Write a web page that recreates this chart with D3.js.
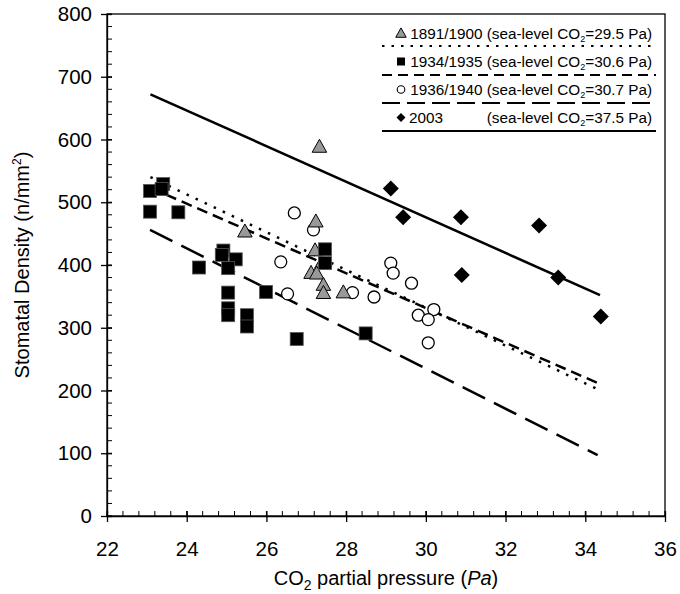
<!DOCTYPE html>
<html><head><meta charset="utf-8">
<script src="https://cdn.jsdelivr.net/npm/d3@7"></script>
<style>body{margin:0;background:#fff}svg{display:block}text{font-family:"Liberation Sans",Arial,sans-serif;fill:#000}</style>
</head><body>
<script>
// ---- data ----
const xTicks = [22,24,26,28,30,32,34,36];
const yTicks = [0,100,200,300,400,500,600,700,800];

const tri1891X = [27.33,27.24,27.22,27.39,27.12,27.26,27.43,27.43,27.93,25.46];
const tri1891Y = [588,469,423,403,387,386,368,355,356,453];

const sq1934X = [23.08,23.08,23.41,23.37,23.79,24.31,24.92,24.88,25.23,25.04,25.04,25.04,25.04,25.51,25.51,25.99,26.76,27.47,27.47,28.49];
const sq1934Y = [518,485,529,521,484,396,423,416,409,395,356,331,320,320,302,357,282,425,403,291];

const circ1936X = [26.70,27.18,26.36,26.53,28.16,28.70,29.12,29.18,29.64,30.20,29.81,30.06,30.06];
const circ1936Y = [483,456,405,354,356,349,403,387,371,329,320,313,276];

const dia2003X = [29.12,29.43,30.88,30.90,32.84,33.32,34.39];
const dia2003Y = [522,476,476,384,463,380,318];

// regression lines: [x0, x1], [y0, y1]
const fit1891X = [23.09,34.31], fit1891Y = [540,202];
const fit1934X = [23.09,34.31], fit1934Y = [523,212];
const fit1936X = [23.08,34.31], fit1936Y = [456,97];
const fit2003X = [23.09,34.37], fit2003Y = [672,352];

const legendYears = ["1891/1900","1934/1935","1936/1940","2003"];
const legendCO2 = ["29.5","30.6","30.7","37.5"];

// ---- chart ----
const W = 680, H = 594;
const m = {l:107, r:665, t:14, b:516};
const svg = d3.select("body").append("svg").attr("width",W).attr("height",H);
const x = d3.scaleLinear().domain([22,36]).range([m.l,m.r]);
const y = d3.scaleLinear().domain([0,800]).range([m.b,m.t]);

// frame
svg.append("rect").attr("x",m.l).attr("y",m.t).attr("width",m.r-m.l).attr("height",m.b-m.t)
  .attr("fill","none").attr("stroke","#000").attr("stroke-width",1.3);

// minor ticks
const gx = svg.append("g");
d3.range(22,36.001,0.4).forEach(v=>{
  gx.append("line").attr("x1",x(v)).attr("x2",x(v)).attr("y1",m.b).attr("y2",m.b-5).attr("stroke","#000").attr("stroke-width",1);
});
d3.range(0,801,20).forEach(v=>{
  gx.append("line").attr("x1",m.l).attr("x2",m.l+5).attr("y1",y(v)).attr("y2",y(v)).attr("stroke","#000").attr("stroke-width",1);
});

// axes
const xAxis = d3.axisBottom(x).tickValues(xTicks).tickSize(6).tickPadding(19).tickSizeOuter(0);
const gX = svg.append("g").attr("transform",`translate(0,${m.b})`).call(xAxis);
const yAxis = d3.axisLeft(y).tickValues(yTicks).tickSize(6).tickPadding(9).tickSizeOuter(0);
const gY = svg.append("g").attr("transform",`translate(${m.l},0)`).call(yAxis);
[gX,gY].forEach(g=>{
  g.select(".domain").attr("stroke","#000").attr("stroke-width",1.3);
  g.selectAll(".tick line").attr("stroke","#000").attr("stroke-width",1.3);
  g.selectAll(".tick text").attr("font-size",20.5).attr("font-family","Liberation Sans, Arial, sans-serif").attr("fill","#000");
});
gX.selectAll(".tick line").attr("y1",-5);
gY.selectAll(".tick line").attr("x1",5);

// axis titles
const xt = svg.append("text").attr("x",(m.l+m.r)/2 - 0).attr("y",585).attr("text-anchor","middle").attr("font-size",20);
xt.append("tspan").text("CO");
xt.append("tspan").text("2").attr("font-size",14).attr("dy",5);
xt.append("tspan").text(" partial pressure (").attr("dy",-5);
xt.append("tspan").text("Pa").attr("font-style","italic");
xt.append("tspan").text(")");

const yt = svg.append("text").attr("transform",`translate(29,${(m.t+m.b)/2}) rotate(-90)`).attr("text-anchor","middle").attr("font-size",20);
yt.append("tspan").text("Stomatal Density (n/mm");
yt.append("tspan").text("2").attr("font-size",12).attr("dy",-8);
yt.append("tspan").text(")").attr("dy",8);

// fit lines
const lineGen = d3.line().x(d=>x(d[0])).y(d=>y(d[1]));
const fits = [
  {xs:fit1891X, ys:fit1891Y, dash:"2.5,7.5", w:2.5},
  {xs:fit1934X, ys:fit1934Y, dash:"11,6", w:2.5},
  {xs:fit1936X, ys:fit1936Y, dash:"25,10", w:2.5},
  {xs:fit2003X, ys:fit2003Y, dash:null, w:2.5}
];
fits.forEach(f=>{
  svg.append("path").attr("d",lineGen(f.xs.map((v,i)=>[v,f.ys[i]])))
    .attr("fill","none").attr("stroke","#000").attr("stroke-width",f.w)
    .attr("stroke-dasharray",f.dash);
});

// markers
const triPath = s => `M0,${-s*0.62}L${s*0.58},${s*0.42}L${-s*0.58},${s*0.42}Z`;
const diaPath = s => `M0,${-s}L${s},0L0,${s}L${-s},0Z`;
function drawSq(g,cx,cy){ g.append("rect").attr("x",cx-6.5).attr("y",cy-6.5).attr("width",13).attr("height",13).attr("fill","#000").attr("stroke","#555").attr("stroke-width",0.8); }
function drawCirc(g,cx,cy){ g.append("circle").attr("cx",cx).attr("cy",cy).attr("r",6).attr("fill","#fff").attr("stroke","#000").attr("stroke-width",1.3); }
function drawTri(g,cx,cy){ g.append("path").attr("transform",`translate(${cx},${cy})`).attr("d",triPath(12.5)).attr("fill","#999").attr("stroke","#000").attr("stroke-width",1); }
function drawDia(g,cx,cy){ g.append("path").attr("transform",`translate(${cx},${cy})`).attr("d",diaPath(8)).attr("fill","#000"); }

const pg = svg.append("g");
circ1936X.forEach((v,i)=>drawCirc(pg,x(v),y(circ1936Y[i])));
tri1891X.forEach((v,i)=>drawTri(pg,x(v),y(tri1891Y[i])));
sq1934X.forEach((v,i)=>drawSq(pg,x(v),y(sq1934Y[i])));
dia2003X.forEach((v,i)=>drawDia(pg,x(v),y(dia2003Y[i])));

// legend
const lg = svg.append("g");
const rowY = [39,67,95,123];
const lineY = [46,75,103,131];
const lgDash = ["2.5,7","10,6","18,7",null];
const drawers = [
  (g,cx,cy)=>{ g.append("path").attr("transform",`translate(${cx},${cy})`).attr("d",triPath(9)).attr("fill","#999").attr("stroke","#000").attr("stroke-width",1); },
  (g,cx,cy)=>{ g.append("rect").attr("x",cx-4).attr("y",cy-4).attr("width",8).attr("height",8).attr("fill","#000"); },
  (g,cx,cy)=>{ g.append("circle").attr("cx",cx).attr("cy",cy).attr("r",3.8).attr("fill","#fff").attr("stroke","#000").attr("stroke-width",1.1); },
  (g,cx,cy)=>{ g.append("path").attr("transform",`translate(${cx},${cy})`).attr("d",diaPath(4.5)).attr("fill","#000"); }
];
legendYears.forEach((yr,i)=>{
  drawers[i](lg,401,rowY[i]-5.5);
  const t = lg.append("text").attr("font-size",15.3).attr("y",rowY[i]);
  if(i<3){
    t.attr("x",652).attr("text-anchor","end");
    t.append("tspan").text(yr+" (sea-level CO");
  } else {
    lg.append("text").attr("font-size",15.3).attr("x",409).attr("y",rowY[i]).text(yr);
    t.attr("x",652).attr("text-anchor","end");
    t.append("tspan").text("(sea-level CO");
  }
  t.append("tspan").text("2").attr("font-size",9).attr("dy",3);
  t.append("tspan").text("="+legendCO2[i]+" Pa)").attr("dy",-3);
  lg.append("line").attr("x1",382).attr("x2",656).attr("y1",lineY[i]).attr("y2",lineY[i])
    .attr("stroke","#000").attr("stroke-width",2).attr("stroke-dasharray",lgDash[i]);
});
</script>
</body></html>
